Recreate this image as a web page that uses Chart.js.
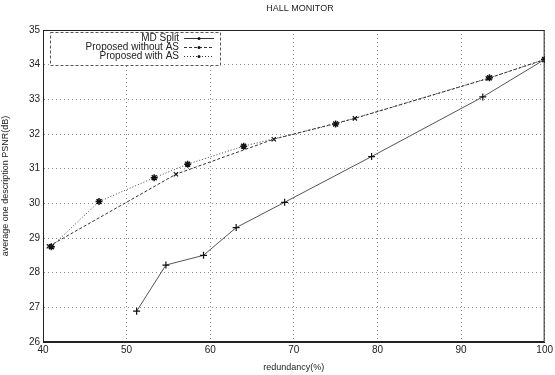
<!DOCTYPE html>
<html>
<head>
<meta charset="utf-8">
<script src="https://cdn.jsdelivr.net/npm/chart.js@4.4.1/dist/chart.umd.min.js"></script>
<style>
  html, body { margin: 0; padding: 0; background: #fff; }
  #wrap { width: 555px; height: 375px; }
</style>
</head>
<body>
<div id="wrap"><canvas id="psnrChart" width="555" height="375"></canvas></div>
<script>
// data
const mdSplitX = [51.2, 54.7, 59.2, 63.1, 68.9, 79.3, 92.6, 100];
const mdSplitY = [26.89, 28.22, 28.5, 29.3, 30.03, 31.35, 33.07, 34.15];

const noAsX = [40.7, 55.9, 67.6, 77.3, 93.2, 100];
const noAsY = [28.76, 30.84, 31.85, 32.45, 33.6, 34.15];

const withAsX = [41.0, 46.7, 53.3, 57.3, 64.0, 75.0, 93.4, 100];
const withAsY = [28.75, 30.05, 30.74, 31.13, 31.65, 32.29, 33.62, 34.15];

const seriesNames = ['MD Split', 'Proposed without AS', 'Proposed with AS'];
const chartTitle = 'HALL MONITOR';
const xTitle = 'redundancy(%)';
const yTitle = 'average one description PSNR(dB)';

function pts(xs, ys) {
    return xs.map((x, i) => ({ x: x, y: ys[i] }));
}

const FONT = '"Liberation Sans", Arial, sans-serif';

// frame, title and legend box drawn on top
const framePlugin = {
    id: 'frame',
    afterDraw(chart) {
        const ctx = chart.ctx;
        const a = chart.chartArea;
        ctx.save();
        ctx.strokeStyle = '#222';
        ctx.lineWidth = 1;
        ctx.setLineDash([]);
        ctx.strokeRect(a.left + 0.5, a.top + 0.5, a.right - a.left - 1, a.bottom - a.top - 1);

        ctx.fillStyle = '#222';
        ctx.font = '9px ' + FONT;
        ctx.textAlign = 'center';
        ctx.textBaseline = 'middle';
        ctx.fillText(chartTitle, 300, 9);

        // legend
        const lx = 50, ly = 32, lw = 170, lh = 33;
        ctx.fillStyle = '#fff';
        ctx.fillRect(lx, ly, lw, lh);
        ctx.strokeStyle = '#555';
        ctx.setLineDash([3, 2]);
        ctx.strokeRect(lx + 0.5, ly + 0.5, lw, lh);
        ctx.font = '10px ' + FONT;
        ctx.textAlign = 'right';
        const rows = [38, 47, 56];
        chart.data.datasets.forEach((ds, i) => {
            const y = rows[i];
            ctx.fillStyle = '#222';
            ctx.fillText(ds.label, 179, y);
            ctx.strokeStyle = '#333';
            ctx.setLineDash(ds.borderDash || []);
            ctx.beginPath();
            ctx.moveTo(184, y + 0.5);
            ctx.lineTo(214, y + 0.5);
            ctx.stroke();
            ctx.setLineDash([]);
            ctx.beginPath();
            ctx.arc(199, y + 0.5, 1.5, 0, Math.PI * 2);
            ctx.fillStyle = '#111';
            ctx.fill();
        });
        ctx.restore();
    }
};

new Chart(document.getElementById('psnrChart'), {
    type: 'scatter',
    data: {
        datasets: [
            {
                label: seriesNames[0],
                data: pts(mdSplitX, mdSplitY),
                showLine: true,
                borderColor: '#555',
                borderWidth: 1,
                pointStyle: 'cross',
                pointRadius: 3.5,
                pointBorderColor: '#111',
                pointBorderWidth: 1.2
            },
            {
                label: seriesNames[1],
                data: pts(noAsX, noAsY),
                showLine: true,
                borderColor: '#333',
                borderWidth: 1,
                borderDash: [3, 2],
                pointStyle: 'crossRot',
                pointRadius: 3,
                pointBorderColor: '#111',
                pointBorderWidth: 1.2
            },
            {
                label: seriesNames[2],
                data: pts(withAsX, withAsY),
                showLine: true,
                borderColor: '#444',
                borderWidth: 1,
                borderDash: [1, 2],
                pointStyle: 'star',
                pointRadius: 3.5,
                pointBorderColor: '#111',
                pointBorderWidth: 1.5
            }
        ]
    },
    options: {
        responsive: false,
        animation: false,
        layout: { padding: { top: 30, right: 8, left: 0, bottom: 0 } },
        plugins: {
            legend: { display: false },
            tooltip: { enabled: false },
            title: { display: false }
        },
        scales: {
            x: {
                type: 'linear',
                min: 40,
                max: 100,
                afterFit: (s) => { s.height = 33; },
                ticks: { stepSize: 10, color: '#222', font: { family: FONT, size: 10 }, padding: 2, maxRotation: 0 },
                grid: { color: '#8a8a8a', lineWidth: 1, tickLength: 0 },
                border: { display: true, color: '#222', dash: [1, 3] },
                title: { display: true, text: xTitle, color: '#222', font: { family: FONT, size: 9 }, padding: { top: 0, bottom: 2 } }
            },
            y: {
                min: 26,
                max: 35,
                afterFit: (s) => { s.width = 43; },
                ticks: { stepSize: 1, color: '#222', font: { family: FONT, size: 10 }, padding: 3 },
                grid: { color: '#8a8a8a', lineWidth: 1, tickLength: 0 },
                border: { display: true, color: '#222', dash: [1, 3] },
                title: { display: true, text: yTitle, color: '#222', font: { family: FONT, size: 9 }, padding: { top: 0, bottom: 4 } }
            }
        }
    },
    plugins: [framePlugin]
});
</script>
</body>
</html>
